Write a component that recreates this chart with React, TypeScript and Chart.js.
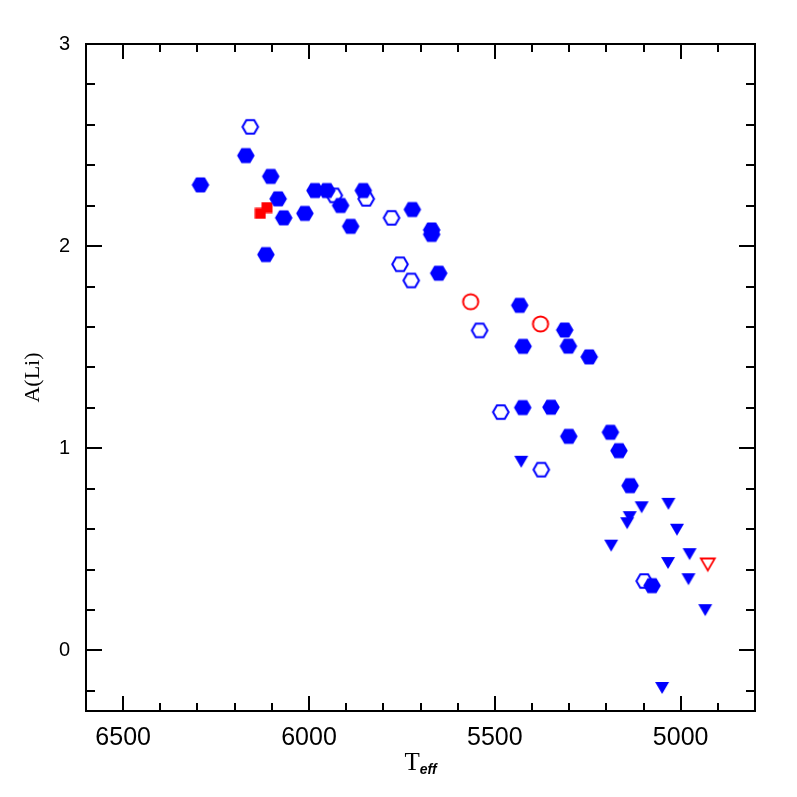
import React, { useEffect, useRef } from "react";
import { Chart, registerables } from "chart.js";

Chart.register(...registerables);

// ---- data (Teff, A(Li)) ----
const filledHexTeff = [6292, 6170, 6103, 6083, 6068, 6116, 6011, 5984, 5952, 5915, 5888, 5854, 5722, 5670, 5670, 5651, 5433, 5424, 5312, 5302, 5246, 5425, 5349, 5301, 5189, 5166, 5136, 5077];
const filledHexALi = [2.303, 2.448, 2.345, 2.234, 2.14, 1.958, 2.162, 2.275, 2.275, 2.201, 2.098, 2.275, 2.181, 2.08, 2.058, 1.866, 1.707, 1.504, 1.585, 1.505, 1.452, 1.201, 1.203, 1.059, 1.079, 0.988, 0.815, 0.32];

const openHexTeff = [6158, 5932, 5846, 5778, 5755, 5725, 5541, 5484, 5375, 5098];
const openHexALi = [2.59, 2.251, 2.234, 2.14, 1.91, 1.83, 1.583, 1.179, 0.894, 0.343];

const redSquareTeff = [6113, 6131];
const redSquareALi = [2.191, 2.162];

const redCircleTeff = [5565, 5377];
const redCircleALi = [1.725, 1.615];

const blueTriTeff = [5429, 5105, 5033, 5137, 5144, 5010, 5187, 4976, 5034, 4979, 4934, 5050];
const blueTriALi = [0.933, 0.708, 0.725, 0.659, 0.629, 0.597, 0.518, 0.476, 0.432, 0.352, 0.199, -0.186];

const redTriTeff = [4927];
const redTriALi = [0.425];

const xTickValues = [5000, 5500, 6000, 6500];
const yTickValues = [0, 1, 2, 3];
const xTitleMain = "T";
const xTitleSub = "eff";
const yTitle = "A(Li)";

const BLUE = "#0000ff";
const RED = "#ff0000";

function pts(xs: number[], ys: number[]) {
  return xs.map((x, i) => ({ x, y: ys[i] }));
}

function makeCanvas(size: number) {
  const c = document.createElement("canvas");
  c.width = size;
  c.height = size;
  return c;
}

function hexMarker(fill: boolean, color: string) {
  const r = 8.8;
  const size = 22;
  const c = makeCanvas(size);
  const ctx = c.getContext("2d")!;
  const cx = size / 2, cy = size / 2;
  const rr = fill ? r : r - 1;
  ctx.beginPath();
  for (let k = 0; k < 6; k++) {
    const a = (k * Math.PI) / 3;
    const px = cx + rr * Math.cos(a);
    const py = cy + rr * Math.sin(a);
    if (k === 0) ctx.moveTo(px, py);
    else ctx.lineTo(px, py);
  }
  ctx.closePath();
  if (fill) {
    ctx.fillStyle = color;
    ctx.fill();
  } else {
    ctx.strokeStyle = color;
    ctx.lineWidth = 2;
    ctx.stroke();
  }
  return c;
}

function squareMarker(color: string) {
  const c = makeCanvas(12);
  const ctx = c.getContext("2d")!;
  ctx.fillStyle = color;
  ctx.fillRect(0.5, 0.5, 11, 11);
  return c;
}

function circleMarker(color: string) {
  const c = makeCanvas(20);
  const ctx = c.getContext("2d")!;
  ctx.beginPath();
  ctx.arc(10, 10, 7.6, 0, Math.PI * 2);
  ctx.strokeStyle = color;
  ctx.lineWidth = 2;
  ctx.stroke();
  return c;
}

function triMarker(fill: boolean, color: string) {
  const c = makeCanvas(18);
  const ctx = c.getContext("2d")!;
  const cx = 9, cy = 9;
  ctx.beginPath();
  ctx.moveTo(cx - 7, cy - 6);
  ctx.lineTo(cx + 7, cy - 6);
  ctx.lineTo(cx, cy + 6);
  ctx.closePath();
  if (fill) {
    ctx.fillStyle = color;
    ctx.fill();
  } else {
    ctx.strokeStyle = color;
    ctx.lineWidth = 1.8;
    ctx.stroke();
  }
  return c;
}

const framePlugin = {
  id: "frameTicks",
  afterDraw(chart: any) {
    const { ctx, chartArea: a, scales } = chart;
    const x = scales.x;
    const y = scales.y;
    ctx.save();
    ctx.strokeStyle = "#000";
    ctx.lineWidth = 2;
    ctx.strokeRect(a.left, a.top, a.right - a.left, a.bottom - a.top);
    const line = (x1: number, y1: number, x2: number, y2: number) => {
      ctx.beginPath();
      ctx.moveTo(x1, y1);
      ctx.lineTo(x2, y2);
      ctx.stroke();
    };
    for (let v = 4900; v <= 6500; v += 100) {
      const px = Math.round(x.getPixelForValue(v)) + 0.0;
      const len = v % 500 === 0 ? 15 : 8;
      line(px, a.bottom, px, a.bottom - len);
      line(px, a.top, px, a.top + len);
    }
    for (let i = -1; i <= 14; i++) {
      const v = i * 0.2;
      const py = Math.round(y.getPixelForValue(v));
      const major = Math.abs(v - Math.round(v)) < 1e-6;
      const len = major ? 16 : 9;
      line(a.left, py, a.left + len, py);
      line(a.right, py, a.right - len, py);
    }
    // y title
    ctx.fillStyle = "#000";
    ctx.save();
    ctx.translate(33, (a.top + a.bottom) / 2);
    ctx.rotate(-Math.PI / 2);
    ctx.font = '22px "Liberation Serif"';
    ctx.textAlign = "center";
    ctx.textBaseline = "middle";
    ctx.fillText(yTitle, 0, 0);
    ctx.restore();
    // x title with subscript
    ctx.font = '25px "Liberation Serif"';
    const wT = ctx.measureText(xTitleMain).width;
    ctx.font = 'bold italic 14px "Liberation Sans"';
    const wS = ctx.measureText(xTitleSub).width;
    const cx = (a.left + a.right) / 2;
    const sx = cx - (wT + wS) / 2;
    ctx.textAlign = "left";
    ctx.textBaseline = "alphabetic";
    ctx.font = '25px "Liberation Serif"';
    ctx.fillText(xTitleMain, sx, 770);
    ctx.font = 'bold italic 14px "Liberation Sans"';
    ctx.fillText(xTitleSub, sx + wT, 774);
    ctx.restore();
  },
};

export default function App() {
  const ref = useRef<HTMLCanvasElement>(null);
  useEffect(() => {
    if (!ref.current) return;
    const chart = new Chart(ref.current, {
      type: "scatter",
      data: {
        datasets: [
          { data: pts(filledHexTeff, filledHexALi), pointStyle: hexMarker(true, BLUE) as any, backgroundColor: BLUE, borderColor: BLUE },
          { data: pts(openHexTeff, openHexALi), pointStyle: hexMarker(false, BLUE) as any, backgroundColor: BLUE, borderColor: BLUE },
          { data: pts(redSquareTeff, redSquareALi), pointStyle: squareMarker(RED) as any, backgroundColor: RED, borderColor: RED },
          { data: pts(redCircleTeff, redCircleALi), pointStyle: circleMarker(RED) as any, backgroundColor: RED, borderColor: RED },
          { data: pts(blueTriTeff, blueTriALi), pointStyle: triMarker(true, BLUE) as any, backgroundColor: BLUE, borderColor: BLUE },
          { data: pts(redTriTeff, redTriALi), pointStyle: triMarker(false, RED) as any, backgroundColor: RED, borderColor: RED },
        ],
      },
      options: {
        animation: false,
        responsive: false,
        devicePixelRatio: 1,
        layout: { padding: { top: 44, right: 42, left: 0, bottom: 0 } },
        plugins: { legend: { display: false }, tooltip: { enabled: false } },
        scales: {
          x: {
            type: "linear",
            reverse: true,
            min: 4800,
            max: 6600,
            grid: { display: false, drawTicks: false },
            border: { display: false },
            afterFit: (s: any) => { s.height = 86; },
            afterBuildTicks: (s: any) => { s.ticks = xTickValues.map((v) => ({ value: v })); },
            ticks: {
              padding: 12,
              color: "#000",
              font: { family: "Liberation Sans", size: 25 },
              maxRotation: 0,
              callback: (v: any) => String(v),
            },
          },
          y: {
            type: "linear",
            min: -0.3,
            max: 3,
            grid: { display: false, drawTicks: false },
            border: { display: false },
            afterFit: (s: any) => { s.width = 86; },
            afterBuildTicks: (s: any) => { s.ticks = yTickValues.map((v) => ({ value: v })); },
            ticks: {
              padding: 16,
              color: "#000",
              font: { family: "Liberation Sans", size: 20 },
              callback: (v: any) => String(v),
            },
          },
        },
      },
      plugins: [framePlugin],
    });
    return () => chart.destroy();
  }, []);
  return (
    <div style={{ position: "absolute", left: 0, top: 0, width: 797, height: 797, background: "#fff" }}>
      <canvas ref={ref} width={797} height={797} style={{ width: 797, height: 797, display: "block" }} />
    </div>
  );
}
